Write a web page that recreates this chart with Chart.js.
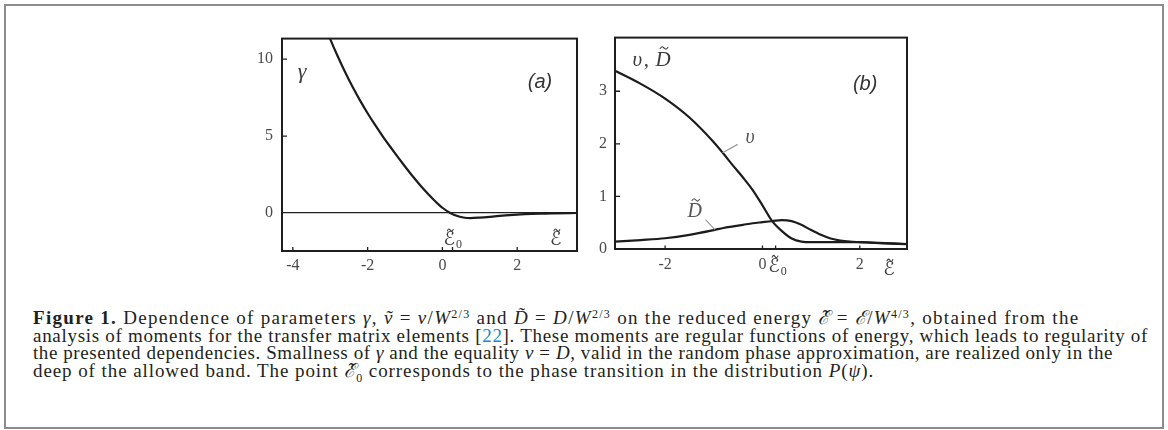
<!DOCTYPE html>
<html lang="en">
<head>
<meta charset="utf-8">
<title>Figure 1</title>
<script src="https://cdn.jsdelivr.net/npm/chart.js"></script>
<style>
  body { margin: 0; background: #fff; width: 1168px; height: 430px; position: relative; overflow: hidden; }
  .frame { position: absolute; left: 4px; top: 4px; width: 1156px; height: 421px; border: 2px solid #8c8c8c; }
  canvas { position: absolute; }
  #caption { position: absolute; left: 33px; top: 309px; font-family: "Liberation Serif", serif; font-size: 19px;
             line-height: 17.7px; color: #231f20; white-space: nowrap; }
  #caption div span.ln { display: inline-block; }
  #caption sup { font-size: 12px; vertical-align: 6px; line-height: 0; }
  #caption .ref { color: #1b8bc7; }
</style>
</head>
<body>
<div class="frame"></div>
<canvas id="chartA" width="350" height="262" style="left:240px; top:20px;"></canvas>
<canvas id="chartB" width="345" height="262" style="left:575px; top:20px;"></canvas>

<div id="caption">
  <div><span class="ln"><b>Figure 1.</b> Dependence of parameters <i>γ</i>, <i>ṽ</i> = <i>ν</i>/<i>W</i><sup>2/3</sup> and <i>D̃</i> = <i>D</i>/<i>W</i><sup>2/3</sup> on the reduced energy <i>ℰ̃</i> = <i>ℰ</i>/<i>W</i><sup>4/3</sup>, obtained from the</span></div>
  <div><span class="ln">analysis of moments for the transfer matrix elements [<span class="ref">22</span>]. These moments are regular functions of energy, which leads to regularity of</span></div>
  <div><span class="ln">the presented dependencies. Smallness of <i>γ</i> and the equality <i>ν</i> = <i>D</i>, valid in the random phase approximation, are realized only in the</span></div>
  <div><span class="ln">deep of the allowed band. The point <i>ℰ̃</i><sub style="font-size:12px">0</sub> corresponds to the phase transition in the distribution <i>P</i>(<i>ψ</i>).</span></div>
</div>

<script>
// ---- panel (a): gamma against reduced energy
const gammaE   = [-3.2, -3.0, -2.8, -2.6, -2.4, -2.2, -2.0, -1.8, -1.6, -1.4, -1.2, -1.0, -0.8, -0.6, -0.4, -0.2, 0.0, 0.2, 0.4, 0.6, 0.75, 1.0, 1.4, 1.8, 2.2, 2.6, 3.0, 3.6];
const gammaVal = [12.5, 11.3, 10.18, 9.14, 8.18, 7.3, 6.48, 5.72, 5.0, 4.32, 3.66, 3.02, 2.4, 1.82, 1.28, 0.78, 0.34, 0.02, -0.2, -0.31, -0.33, -0.3, -0.22, -0.14, -0.08, -0.04, -0.02, 0];
const aTicksX = [-4, -2, 0, 2];
const aTicksY = [0, 5, 10];

// ---- panel (b): v and D against reduced energy
const bandE = [-3.03, -2.5, -2.0, -1.5, -1.0, -0.8, -0.6, -0.4, -0.2, 0.0, 0.2, 0.4, 0.6, 0.8, 1.0, 1.2, 1.4, 1.6, 1.8, 2.0, 2.4, 2.97];
const vVal  = [3.39, 3.14, 2.86, 2.5, 2.03, 1.81, 1.58, 1.36, 1.12, 0.83, 0.53, 0.34, 0.2, 0.14, 0.13, 0.13, 0.13, 0.13, 0.13, 0.13, 0.115, 0.095];
const dVal  = [0.14, 0.17, 0.205, 0.27, 0.36, 0.4, 0.43, 0.46, 0.49, 0.51, 0.53, 0.55, 0.53, 0.46, 0.36, 0.27, 0.2, 0.16, 0.14, 0.13, 0.11, 0.09];
const bTicksX = [-2, 0, 2];
const bTicksY = [0, 1, 2, 3];

const E0 = 0.27;   // transition point marked on both energy axes

Chart.defaults.font.family = '"Liberation Serif", "DejaVu Serif", serif';

const SERIF = '"Liberation Serif", "DejaVu Serif", "DejaVu Sans", serif';

// small tilde drawn as a wave above a glyph
function tilde(ctx, cx, cy, w) {
  ctx.beginPath();
  ctx.moveTo(cx - w / 2, cy + 1);
  ctx.bezierCurveTo(cx - w / 4, cy - 2.5, cx - w / 8, cy - 1, cx, cy);
  ctx.bezierCurveTo(cx + w / 8, cy + 1, cx + w / 4, cy + 2.5, cx + w / 2, cy - 1);
  ctx.stroke();
}

function drawLabel(ctx, l, xs, ys) {
  const px = xs.getPixelForValue(l.x);
  const py = ys.getPixelForValue(l.y);
  ctx.font = (l.italic ? 'italic ' : '') + l.size + 'px ' + (l.family || SERIF);
  ctx.fillStyle = l.color || '#3c3c3c';
  ctx.textAlign = l.align || 'left';
  ctx.textBaseline = 'alphabetic';
  ctx.fillText(l.t, px, py);
  const w = ctx.measureText(l.t).width;
  if (l.tilde) {
    ctx.strokeStyle = l.color || '#3c3c3c';
    ctx.lineWidth = 1.1;
    tilde(ctx, px + w / 2 + (l.shift || 0), py - l.tilde, Math.max(6, w * 0.55));
  }
  if (l.sub) {
    ctx.font = Math.round(l.size * 0.65) + 'px ' + SERIF;
    ctx.fillText(l.sub, px + w + 1, py + 3);
  }
}

const boxPlugin = {
  id: 'boxTicks',
  afterDraw(chart, args, opts) {
    const { ctx, chartArea: a } = chart;
    const xs = chart.scales.x, ys = chart.scales.y;
    ctx.save();
    ctx.strokeStyle = '#1e1e1e';
    ctx.lineWidth = 2;
    ctx.strokeRect(a.left, a.top, a.right - a.left, a.bottom - a.top);
    // inward tick marks
    ctx.lineWidth = 1.3;
    ctx.beginPath();
    opts.xMarks.forEach(v => {
      const p = xs.getPixelForValue(v);
      ctx.moveTo(p, a.bottom); ctx.lineTo(p, a.bottom - opts.xLen);
    });
    opts.yMarks.forEach(v => {
      const p = ys.getPixelForValue(v);
      ctx.moveTo(a.left, p); ctx.lineTo(a.left + opts.yLen, p);
    });
    ctx.stroke();
    // leader lines
    ctx.strokeStyle = '#9a9a9a';
    ctx.lineWidth = 1.2;
    (opts.leaders || []).forEach(s => {
      ctx.beginPath();
      ctx.moveTo(xs.getPixelForValue(s[0]), ys.getPixelForValue(s[1]));
      ctx.lineTo(xs.getPixelForValue(s[2]), ys.getPixelForValue(s[3]));
      ctx.stroke();
    });
    opts.labels.forEach(l => drawLabel(ctx, l, xs, ys));
    ctx.restore();
  }
};

function tickSetter(list) {
  return s => { s.ticks = list.map(v => ({ value: v })); };
}

const tickFont = { size: 16 };
const tickColor = '#4a4a4a';

new Chart(document.getElementById('chartA'), {
  type: 'line',
  data: {
    datasets: [{
      data: gammaE.map((e, i) => ({ x: e, y: gammaVal[i] })),
      borderColor: '#1c1c1c', borderWidth: 2.2, pointRadius: 0,
      cubicInterpolationMode: 'monotone', fill: false
    }]
  },
  options: {
    responsive: false, animation: false,
    layout: { padding: { left: 0, right: 13, top: 13, bottom: 0 } },
    plugins: {
      legend: { display: false }, tooltip: { enabled: false },
      boxTicks: {
        xMarks: aTicksX.concat([E0]), yMarks: aTicksY.slice(1), xLen: 4, yLen: 5,
        labels: [
          { t: 'γ', x: -3.87, y: 8.8, size: 22, italic: true },
          { t: '(a)', x: 2.61, y: 8.1, size: 20, italic: true, align: 'center', family: '"Liberation Sans", Arial, sans-serif', color: '#333' },
          { t: 'ℰ', x: 0.03, y: -2.09, size: 19, italic: true, tilde: 15, shift: 1, sub: '0' },
          { t: 'ℰ', x: 2.88, y: -2.09, size: 19, italic: true, tilde: 15, shift: 1 }
        ]
      }
    },
    scales: {
      x: {
        type: 'linear', min: -4.29, max: 3.6,
        grid: { display: false, drawTicks: false }, border: { display: false },
        afterBuildTicks: tickSetter(aTicksX),
        afterFit: s => { s.height = 31; },
        ticks: { padding: 5, color: tickColor, font: tickFont, callback: v => String(v) }
      },
      y: {
        min: -2.47, max: 11.33,
        grid: { drawTicks: false, lineWidth: 1.3, color: c => (c.tick && c.tick.value === 0) ? '#222' : 'rgba(0,0,0,0)' },
        border: { display: false },
        afterBuildTicks: tickSetter(aTicksY),
        afterFit: s => { s.width = 42; },
        ticks: { padding: 9, color: tickColor, font: tickFont, callback: v => String(v) }
      }
    }
  },
  plugins: [boxPlugin]
});

new Chart(document.getElementById('chartB'), {
  type: 'line',
  data: {
    datasets: [
      { data: bandE.map((e, i) => ({ x: e, y: vVal[i] })), borderColor: '#1c1c1c', borderWidth: 2.2, pointRadius: 0, cubicInterpolationMode: 'monotone', fill: false },
      { data: bandE.map((e, i) => ({ x: e, y: dVal[i] })), borderColor: '#1c1c1c', borderWidth: 2.2, pointRadius: 0, cubicInterpolationMode: 'monotone', fill: false }
    ]
  },
  options: {
    responsive: false, animation: false,
    layout: { padding: { left: 0, right: 13, top: 14, bottom: 0 } },
    plugins: {
      legend: { display: false }, tooltip: { enabled: false },
      boxTicks: {
        xMarks: bTicksX.concat([E0]), yMarks: bTicksY.slice(1), xLen: 3.5, yLen: 5,
        leaders: [[-0.51, 1.99, -0.82, 1.83], [-1.17, 0.56, -0.98, 0.37]],
        labels: [
          { t: 'υ', x: -2.67, y: 3.48, size: 21, italic: true, tilde: 14 },
          { t: ',', x: -2.44, y: 3.48, size: 21 },
          { t: 'D', x: -2.2, y: 3.48, size: 21, italic: true, tilde: 18, shift: 1 },
          { t: '(b)', x: 2.11, y: 3.02, size: 20, italic: true, align: 'center', family: '"Liberation Sans", Arial, sans-serif', color: '#333' },
          { t: 'υ', x: -0.35, y: 2.01, size: 20, italic: true, tilde: 13, color: '#555' },
          { t: 'D', x: -1.54, y: 0.61, size: 20, italic: true, tilde: 17, shift: 1, color: '#555' },
          { t: 'ℰ', x: 0.12, y: -0.43, size: 19, italic: true, tilde: 15, shift: 1, sub: '0' },
          { t: 'ℰ', x: 2.48, y: -0.5, size: 19, italic: true, tilde: 15, shift: 1 }
        ]
      }
    },
    scales: {
      x: {
        type: 'linear', min: -3.03, max: 2.97,
        grid: { display: false, drawTicks: false }, border: { display: false },
        afterBuildTicks: tickSetter(bTicksX),
        afterFit: s => { s.height = 33; },
        ticks: { padding: 6, color: tickColor, font: tickFont, callback: v => String(v) }
      },
      y: {
        min: 0, max: 4.02,
        grid: { display: false, drawTicks: false }, border: { display: false },
        afterBuildTicks: tickSetter(bTicksY),
        afterFit: s => { s.width = 40; },
        ticks: { padding: 8, color: tickColor, font: tickFont, callback: v => String(v) }
      }
    }
  },
  plugins: [boxPlugin]
});

// widen caption lines to the measured line lengths of the reference
const lineTargets = [1049, 1115, 1080, 842];
document.querySelectorAll('#caption span.ln').forEach((el, i) => {
  const chars = el.textContent.replace(/\s+/g, ' ').trim().length;
  const diff = lineTargets[i] - el.getBoundingClientRect().width;
  el.style.letterSpacing = (diff / chars).toFixed(3) + 'px';
});
</script>
</body>
</html>
